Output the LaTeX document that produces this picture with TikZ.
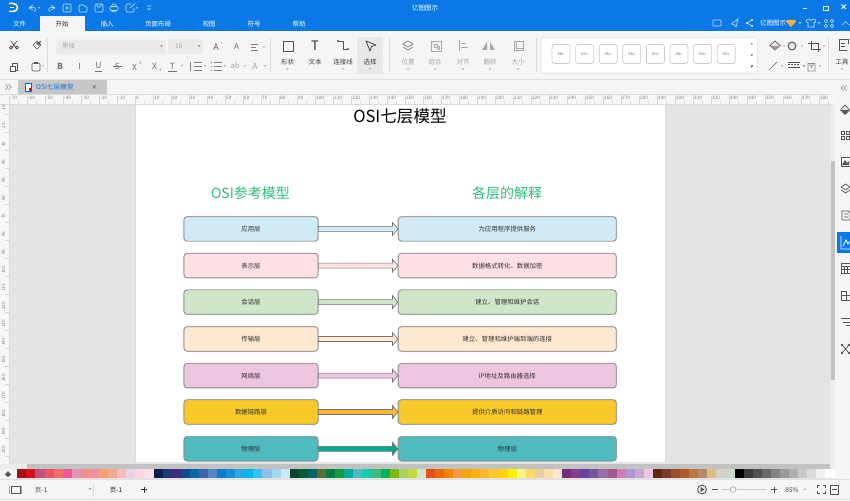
\documentclass[tikz,border=0pt]{standalone}
\usepackage{fontspec}
\setmainfont{Noto Sans CJK SC}
\usetikzlibrary{calc,shapes.geometric}
\definecolor{appblue}{HTML}{0A78E6}
\definecolor{ribbon}{HTML}{F5F5F5}
\definecolor{canvas}{HTML}{E4E4E4}
\definecolor{iconc}{HTML}{555555}
\definecolor{dimc}{HTML}{A8A8A8}
\definecolor{headgreen}{HTML}{2EBD7A}
\definecolor{cBlue}{HTML}{D0EBF5}
\definecolor{cPink}{HTML}{FFE0E5}
\definecolor{cGreen}{HTML}{CFE6C9}
\definecolor{cPeach}{HTML}{FEE8CF}
\definecolor{cMauve}{HTML}{ECC6DE}
\definecolor{cYellow}{HTML}{F9C92A}
\definecolor{cTeal}{HTML}{4FBBBF}
\definecolor{aOrange}{HTML}{FDB72A}
\definecolor{aTeal}{HTML}{02A890}
\definecolor{gemc}{HTML}{F5B335}
\tikzset{
  layerbox/.style={draw=black!48,line width=0.65pt,rounded corners=3.2pt,inner sep=0pt,
    minimum height=24.4pt,text=black!80,font=\fontsize{6.4}{7}\selectfont,
    preaction={draw=black!14,line width=1.7pt}},
  leftbox/.style={layerbox,minimum width=134pt},
  rightbox/.style={layerbox,minimum width=218pt},
  layerarrow/.style={draw=black!55,line width=0.6pt,line join=miter},
  heading/.style={text=headgreen,inner sep=0pt,font=\fontsize{14}{16}\selectfont},
  menulabel/.style={inner sep=0pt,text=white,font=\fontsize{6.5}{7}\selectfont},
  toollabel/.style={inner sep=0pt,text=black!75,font=\fontsize{6.5}{7}\selectfont},
  dimlabel/.style={inner sep=0pt,text=dimc,font=\fontsize{6.5}{7}\selectfont},
  rulerlabel/.style={inner sep=0pt,text=black!50,font=\fontsize{4.6}{5}\selectfont},
  ico/.style={draw=iconc,line width=0.7pt},
  dimico/.style={draw=dimc,line width=0.7pt},
  wico/.style={draw=white!80!appblue,line width=0.6pt},
  bico/.style={draw=black!68,line width=0.85pt},
}
\newcommand{\conn}[3]{%
  \draw[layerarrow,fill=#3] ($(#1.east)+(0,-2.5)$) -- ($(#2.west)+(-5.5,-2.5)$) -- ($(#2.west)+(-5.5,-6.5)$)
    -- (#2.west) -- ($(#2.west)+(-5.5,6.5)$) -- ($(#2.west)+(-5.5,2.5)$) -- ($(#1.east)+(0,2.5)$) -- cycle;}
\newcommand{\caret}[3][dimc]{\fill[#1] (#2-1.3,#3-0.7) -- (#2+1.3,#3-0.7) -- (#2,#3+0.8) -- cycle;}
\begin{document}
\begin{tikzpicture}[x=1pt,y=-1pt]
\useasboundingbox (0,0) rectangle (850,500);
% ---------- backgrounds
\fill[canvas] (0,0) rectangle (850,500);
\fill[appblue] (0,0) rectangle (850,31);
\fill[ribbon] (0,31) rectangle (850,80);
\draw[black!12,line width=0.6pt] (0,79.5) -- (850,79.5);
\fill[ribbon] (0,80) rectangle (850,94);
\fill[black!3] (0,94) rectangle (850,104);
\fill[black!3] (0,104) rectangle (9,464);
\fill[white] (135,104) rectangle (665,462);
\draw[black!14,line width=0.4pt] (135,104) -- (135,462) (665,104) -- (665,462);
\fill[ribbon] (835,94) rectangle (850,480);
\fill[black!7] (831,104) rectangle (835,464);
\fill[black!24] (831,161) rectangle (835,380);
\fill[black!7] (0,464) rectangle (835,468.5);
\fill[black!24] (27,464) rectangle (830,468.5);
\fill[ribbon] (0,468.5) rectangle (17,480);
\fill[ribbon] (0,479) rectangle (850,500);
\draw[black!12,line width=0.5pt] (0,479.5) -- (850,479.5) (0,499.5) -- (850,499.5);
% ---------- title bar icons
\draw[white,line width=1.5pt] (9,3.5) -- (13,3.5) .. controls (19,3.5) and (19,11.5) .. (13,11.5) -- (9,11.5);
\draw[white,line width=1.2pt] (10,7.5) -- (14,7.5);
\draw[wico] (29,8) -- (33,5) (29,8) -- (33,10) (29,8) .. controls (36,6) and (37,9) .. (34,12);
\draw[wico] (55,8) -- (51,5) (55,8) -- (51,10) (55,8) .. controls (49,6) and (47,9) .. (50,12);
\draw[wico,rounded corners=1pt] (63,4) rectangle (71,12) (65,8) -- (69,8) (67,6) -- (67,10);
\draw[wico,rounded corners=1pt] (79,5) -- (84,5) -- (85,6.5) -- (87,6.5) -- (87,12) -- (79,12) -- cycle;
\draw[wico,rounded corners=1pt] (95,4) rectangle (103,12) (97,4) -- (97,7) -- (101,7) -- (101,4);
\draw[wico,rounded corners=1pt] (110,6.5) rectangle (118,10.5) (112,6.5) -- (112,4) -- (116,4) -- (116,6.5) (112,10.5) -- (112,12) -- (116,12) -- (116,10.5);
\draw[wico,rounded corners=1pt] (131,4) -- (126,4) -- (126,12) -- (134,12) -- (134,8) (130,8) -- (135,3.5);
\draw[wico] (147,6) -- (151,6) (147.5,8) -- (149,10) -- (150.5,8);
\caret[white!80!appblue]{39}{8} \caret[white!80!appblue]{137}{8}
\node[inner sep=0pt,text=white,font=\fontsize{6.5}{7}\selectfont] (apptitle) at (425,8) {亿图图示};
\draw[white,line width=0.8pt] (803,8.5) -- (807,8.5);
\draw[white,line width=0.7pt] (823,6) rectangle (828,10);
\draw[white,line width=0.8pt] (841.5,4.5) -- (846,9) (846,4.5) -- (841.5,9);
% ---------- menu tabs
\fill[ribbon] (40,16) rectangle (84.5,31);
\node[menulabel] (m1) at (19.5,24) {文件};
\node[menulabel,text=black!80] (m2) at (62,24) {开始};
\node[menulabel] (m3) at (107,24) {插入};
\node[menulabel] (m4) at (158,24) {页面布局};
\node[menulabel] (m5) at (209,24) {视图};
\node[menulabel] (m6) at (254,24) {符号};
\node[menulabel] (m7) at (299,24) {帮助};
% right side of tab row
\draw[wico,rounded corners=0.8pt] (713,20) rectangle (721,26);
\draw[wico] (731,24) -- (738,19) -- (736,27) -- (734,24.5) -- (731,24);
\draw[wico] (747,23) -- (752,20) (747,23) -- (752,26);
\fill[white] (747,23) circle (1.1) (752,20) circle (1.1) (752,26) circle (1.1);
\node[menulabel] (acct) at (773,23.5) {亿图图示};
\fill[gemc] (787,20) -- (795,20) -- (796,21.5) -- (791,27) -- (786,21.5) -- cycle;
\draw[wico] (806,20) -- (809,19) -- (811,20.5) -- (813,19) -- (816,20) -- (815,22.5) -- (814,22.5) -- (814,27) -- (808,27) -- (808,22.5) -- (807,22.5) -- cycle;
\draw[wico] (826,21) circle (1.8) (832,21) circle (1.8) (826,26) circle (1.8) (832,26) circle (1.8);
\draw[wico] (842,25) -- (845.5,21.5) -- (849,25);
\caret[white]{800}{23} \caret[white]{819}{23}
% ---------- ribbon separators
\foreach \sx in {47,270,389,536,828} \draw[black!14,line width=0.5pt] (\sx,38) -- (\sx,72);
% clipboard group
\draw[ico] (11,41) -- (17,49) (17,41) -- (11,49);
\draw[ico] (11,47.5) circle (1.7) (17,47.5) circle (1.7);
\draw[ico] (33,45) -- (37,41) -- (41,45) -- (37,49) -- cycle;
\fill[iconc] (36,43) -- (41,41) -- (39,46) -- cycle;
\draw[ico] (12,63) rectangle (17,70);
\draw[ico,fill=ribbon] (10,66) rectangle (15,71);
\draw[ico,rounded corners=1pt] (32,63) rectangle (40,71);
\fill[iconc] (34,62) rectangle (38,64.5);
\caret{43}{66}
% font boxes
\fill[black!8] (56,39) rectangle (165,54);
\draw[black!6,line width=0.5pt] (56,39) rectangle (165,54);
\fill[black!8] (168,39) rectangle (203,54);
\node[dimlabel,anchor=west] (fontname) at (62,46.5) {黑体};
\node[dimlabel,anchor=west] (fontsize) at (175,46.5) {10};
\caret[black!55]{161.5}{46} \caret[black!55]{199}{46}
\node[dimlabel,text=black!60,font=\fontsize{9}{9}\selectfont] (gA1) at (216,47) {A};
\node[dimlabel,text=black!60,font=\fontsize{3.5}{4}\selectfont] (gA1p) at (221.5,43) {+};
\node[dimlabel,text=black!60,font=\fontsize{8}{9}\selectfont] (gA2) at (236.5,47) {A};
\node[dimlabel,text=black!60,font=\fontsize{3.5}{4}\selectfont] (gA2m) at (241,43) {-};
\draw[black!50,line width=0.6pt] (251,44) -- (258,44) (251,47) -- (256,47) (251,50) -- (258,50);
\caret{264}{47}
% format row
\node[dimlabel,text=black!55,font=\bfseries\fontsize{8.5}{9}\selectfont] (fB) at (60,66) {B};
\node[dimlabel,text=black!55,font=\itshape\fontsize{8.5}{9}\selectfont] (fI) at (79.5,66) {I};
\node[dimlabel,text=black!55,font=\fontsize{8.5}{9}\selectfont] (fU) at (98.5,65.5) {U};
\draw[black!55,line width=0.6pt] (95,71) -- (102,71);
\node[dimlabel,text=black!55,font=\fontsize{8.5}{9}\selectfont] (fS) at (117.5,66) {S};
\draw[black!55,line width=0.6pt] (113,66) -- (122,66);
\node[dimlabel,text=black!55,font=\fontsize{8.5}{9}\selectfont] (fX1) at (134.5,67) {X};
\node[dimlabel,text=black!55,font=\fontsize{4}{4}\selectfont] (fX1s) at (140.5,63.5) {2};
\node[dimlabel,text=black!55,font=\fontsize{8.5}{9}\selectfont] (fX2) at (154.5,66) {X};
\node[dimlabel,text=black!55,font=\fontsize{4}{4}\selectfont] (fX2s) at (160.5,70) {2};
\node[dimlabel,text=black!55,font=\fontsize{8.5}{9}\selectfont] (fT) at (172.5,66) {T};
\draw[black!55,line width=0.6pt] (168,71) -- (177,71);
\draw[black!50,line width=0.6pt] (194,62.5) -- (202,62.5) (194,66.5) -- (202,66.5) (194,70.5) -- (202,70.5) (190,62) -- (190,71);
\draw[black!50,line width=0.6pt] (214,62.5) -- (222,62.5) (214,66.5) -- (222,66.5) (214,70.5) -- (222,70.5);
\fill[black!50] (211.5,62.5) circle (0.7) (211.5,66.5) circle (0.7) (211.5,70.5) circle (0.7);
\node[dimlabel,font=\fontsize{7.5}{8}\selectfont] (fab) at (235,66) {ab};
\node[dimlabel,font=\fontsize{8.5}{9}\selectfont] (fAc) at (255,66) {A};
\caret{182}{66} \caret{205}{66} \caret{225}{66} \caret{245}{66} \caret{265}{66}
% shape tools
\fill[black!9] (357,37) rectangle (383,74);
\draw[bico] (283,41) rectangle (293,51);
\node[toollabel,text=black!80,font=\fontsize{13}{14}\selectfont] (tT) at (315,46) {T};
\draw[bico] (338,41) -- (343.5,41) -- (343.5,49) -- (348,49);
\fill[black!68] (338,41) circle (1.1) (348,49) circle (1.1);
\draw[bico,line join=round] (366,41) -- (376,45) -- (371.5,46.5) -- (370,51) -- cycle;
\node[toollabel] (t1) at (287.5,62) {形状};
\node[toollabel] (t2) at (315,62) {文本};
\node[toollabel] (t3) at (343,62) {连接线};
\node[toollabel] (t4) at (370,62) {选择};
\caret{287.5}{69} \caret{343}{69} \caret{370}{69}
% arrange group
\draw[dimico,draw=black!50,line join=round] (408,41) -- (413,44) -- (408,47) -- (403,44) -- cycle (403,47) -- (408,50) -- (413,47);
\draw[dimico] (431,41) rectangle (441,51) (434,44) rectangle (437,47) (437,46) rectangle (439,49);
\draw[dimico] (459.5,40) -- (459.5,51) (461,43) -- (466,43) (461,47) -- (468,47);
\fill[dimc] (487,42) -- (487,50) -- (482,50) -- cycle (490,42) -- (490,50) -- (495,50) -- cycle;
\draw[dimico] (514,41) rectangle (523,50) (516,41) -- (516,48) -- (523,48);
\node[dimlabel] (a1) at (408,62) {位置};
\node[dimlabel] (a2) at (435,62) {组合};
\node[dimlabel] (a3) at (463,62) {对齐};
\node[dimlabel] (a4) at (490,62) {翻转};
\node[dimlabel] (a5) at (518,62) {大小};
\foreach \cx in {408,435,463,490,518} \caret{\cx}{69}
% style gallery
\draw[black!10,fill=white,line width=0.5pt,rounded corners=1.5pt] (541,38) rectangle (757,73);
\foreach \gi in {0,...,7} {
  \node[draw=black!20,line width=0.7pt,fill=white,rounded corners=2.5pt,minimum width=18pt,minimum height=19pt,inner sep=0pt,
        text=black!50,font=\fontsize{4}{4}\selectfont] (style\gi) at (561+\gi*23.6,54) {Abc};
}
\fill[black!50] (750.5,44.5) -- (753,44.5) -- (751.8,42.5) -- cycle (750.5,54.5) -- (753,54.5) -- (751.8,56.5) -- cycle (750.5,66) -- (753,66) -- (751.8,68) -- cycle;
\draw[black!50,line width=0.4pt] (750.5,64.8) -- (753,64.8);
% fill/line group
\draw[ico,line join=round] (770,45.5) -- (775,41) -- (780,45.5) -- (775,50) -- cycle;
\fill[black!40] (771,46) -- (779,46) -- (775,50) -- cycle;
\draw[black!60,line width=1.2pt] (792,46) circle (3.9);
\draw[bico] (811,41) -- (811,49) -- (821,49) (808,43.5) -- (818,43.5) -- (818,52);
\draw[black!45,line width=1pt] (769,70) -- (777,62);
\draw[bico] (788,62) -- (800,62) (788,67) -- (800,67);
\draw[bico,dash pattern=on 2pt off 1pt] (788,64.5) -- (800,64.5);
\draw[dimico,draw=black!45] (808,63.5) rectangle (815,71) (809.5,63.5) arc (180:0:2 and 2.5);
\fill[black!45] (811.5,67.2) circle (0.8);
\caret{784}{46} \caret{802}{46} \caret{824}{46} \caret{782}{66} \caret[black!60]{804}{66} \caret{820}{66}
% tools
\draw[bico,line width=0.7pt] (839,39) -- (839,50) -- (847,50) (839,39) -- (848,39) -- (848,44) (841,43) -- (845,43) (841,46) -- (845,46);
\node[toollabel] (tools) at (842,62) {工具};
\caret{842}{69}
% ---------- tab bar
\fill[black!22] (18,80) rectangle (107,94);
\draw[black!50,line width=0.5pt] (5.5,84) -- (8,87) -- (5.5,90) (8.5,84) -- (11,87) -- (8.5,90);
\draw[black!50,line width=0.5pt] (843.5,85) -- (841,88) -- (843.5,91) (846.5,85) -- (844,88) -- (846.5,91);
\draw[blue!60!cyan,line width=0.8pt,fill=white] (25,83) rectangle (31,91);
\fill[red] (29,88.5) rectangle (32,91.5);
\node[anchor=west,inner sep=0pt,text=appblue,font=\fontsize{6.6}{7}\selectfont] (doctab) at (36,87) {OSI七层模型};
\draw[black!55,line width=0.6pt] (92.5,85) -- (96,88.5) (96,85) -- (92.5,88.5);
% ---------- rulers
\draw[black!14,line width=0.4pt] (0,94) -- (831,94) (0,104) -- (831,104) (9,104) -- (9,464);
\foreach \r in {-7,...,38} {
  \pgfmathsetmacro{\rx}{135+18*\r}
  \pgfmathtruncatemacro{\rl}{\r*10}
  \draw[black!16,line width=0.4pt] (\rx,96) -- (\rx,104);
  \draw[black!12,line width=0.3pt] (\rx+9,100) -- (\rx+9,104);
  \node[rulerlabel,anchor=west] (rt\r) at (\rx+1,97.5) {\rl};
}
\foreach \r in {1,...,20} {
  \pgfmathsetmacro{\ry}{90+18*\r}
  \pgfmathtruncatemacro{\rl}{\r*10}
  \draw[black!16,line width=0.4pt] (5,\ry+6) -- (9,\ry+6);
  \node[rulerlabel,rotate=90] (rl\r) at (3.5,\ry) {\rl};
}
% ---------- right sidebar
\fill[appblue] (837,232) rectangle (850,253);
\draw[ico,line join=round] (845,105) -- (849.5,110) -- (845,114.5) -- (840.5,110) -- cycle;
\fill[iconc] (841,110) -- (849,110) -- (845,114.5) -- cycle;
\draw[ico] (841,131) rectangle (844.5,134.5) (846,131) rectangle (849.5,134.5) (841,136) rectangle (844.5,139.5) (846,136) rectangle (849.5,139.5);
\draw[ico] (841,157) rectangle (850,166);
\fill[iconc] (842,165) -- (845,160) -- (847,163) -- (849,161) -- (849,165) -- cycle;
\draw[ico,line join=round] (845.5,184) -- (850,187) -- (845.5,190) -- (841,187) -- cycle (841,190) -- (845.5,193) -- (850,190);
\draw[ico] (842,211) -- (848,211) -- (850,213) -- (850,220) -- (842,220) -- cycle (844,214) -- (848,214) (844,217) -- (848,217);
\draw[white,line width=0.8pt] (841,236) -- (841,249) -- (850,249) (843,246) -- (846,240) -- (848,244) -- (850,241);
\draw[ico] (841,263) rectangle (850,273) (841,266) -- (850,266) (841,269.5) -- (850,269.5) (844,266) -- (844,273) (847,266) -- (847,273);
\draw[ico] (841,291) -- (846,291) -- (846,295) -- (850,295) -- (850,300) -- (841,300) -- cycle (841,295) -- (846,295) (846,291) -- (846,300);
\draw[ico] (841,318.5) -- (850,318.5) (843,322) -- (850,322) (846,325.5) -- (850,325.5);
\draw[ico] (842,345) -- (849,353) (849,345) -- (842,353);
\fill[iconc] (842,345) circle (1.3) (849,345) circle (1.3) (842,353) circle (1.3) (849,353) circle (1.3);
% ---------- palette
\fill[iconc] (8,471) -- (11,474.5) -- (8,477) -- (5,474.5) -- cycle;
\foreach \pc [count=\pi from 0] in {AB0D14,D9101F,C2517A,EC5566,EE6F6E,E75C9A,E296B6,EF8F85,F0909A,FB9E6E,F3AB8F,F8BDB4,E9D3E6,FBD4E5,FEE0E5,
  0E1F52,1D3873,3F2C7E,0F4C90,0A68A8,3F65AF,5585C5,0B7BD0,1590D8,2AA8E0,08B5F1,2EC5F4,8CC0EA,A4D7EF,CDE9F5,
  0B4431,055B36,02636A,586C2B,047A45,169A3E,01AC9B,50B9C1,12CDB0,40B97C,02B45A,7FB80E,A5D263,C2D940,D0E6C8,
  E54E1A,EE6A00,F58400,F7994A,F2A700,FFB000,FDB72A,FBC82E,FFD800,FFF000,FFF585,FFD667,EBCD9C,FCDDA8,FEE9CF,
  7A2C7A,863D8D,6A3D9F,75549F,9A6BA5,A05A90,CD7FB3,AE97D4,C6A8D0,EEC6E0,
  5A2A12,7A3C29,96502A,AF5B25,BC773F,B58A68,E0BB83,D5D0C8,CBD8CC,
  000000,3A3A3A,505050,6A6A6A,838383,9A9A9A,AFAFAF,C8C8C8,DBDBDB,EFEFEF,FFFFFF} {
  \definecolor{swatch}{HTML}{\pc}
  \fill[swatch] (17.3+\pi*9.08,469.2) rectangle (17.3+\pi*9.08+9.08,478.2);
}
% ---------- status bar
\draw[bico] (11,486) rectangle (20,493);
\draw[black!35,line width=0.9pt] (9.5,485.5) -- (9.5,493.5) (21.5,485.5) -- (21.5,493.5);
\node[toollabel,text=black!70] (pg1) at (41,490) {页-1};
\caret[black!55]{90}{489}
\draw[black!14,line width=0.5pt] (93,483) -- (93,497);
\node[toollabel,text=black!90] (pg2) at (116,490) {页-1};
\draw[black!80,line width=0.8pt] (141,489.5) -- (147,489.5) (144,486.5) -- (144,492.5);
\draw[bico] (702,489.5) circle (4.4);
\fill[black!68] (700.5,487) -- (704.5,489.5) -- (700.5,492) -- cycle;
\draw[bico] (712,489.5) -- (718,489.5);
\draw[black!20,line width=1pt] (722,489.5) -- (767,489.5);
\draw[black!40,fill=white,line width=0.6pt] (733,489.5) circle (2.8);
\draw[bico] (771,489.5) -- (777,489.5) (774,486.5) -- (774,492.5);
\node[toollabel] (zoomp) at (792,490) {85\%};
\caret[black!40]{805}{489.5}
\draw[bico] (817,488) -- (817,485.5) -- (819.5,485.5) (822.5,485.5) -- (825,485.5) -- (825,488) (825,491) -- (825,493.5) -- (822.5,493.5) (819.5,493.5) -- (817,493.5) -- (817,491);
\draw[bico] (830,485) rectangle (838,494) (831.5,489.5) -- (836.5,489.5);
% ---------- diagram
\node[inner sep=0pt,text=black,font=\fontsize{16.6}{18}\selectfont] (title) at (400,116) {OSI七层模型};
\node[heading] (headL) at (250.5,193) {OSI参考模型};
\node[heading] (headR) at (507,193) {各层的解释};
\node[leftbox,fill=cBlue]   (l1) at (251,228.9) {应用层};
\node[leftbox,fill=cPink]   (l2) at (251,265.6) {表示层};
\node[leftbox,fill=cGreen]  (l3) at (251,302.1) {会话层};
\node[leftbox,fill=cPeach]  (l4) at (251,339) {传输层};
\node[leftbox,fill=cMauve]  (l5) at (251,375.6) {网络层};
\node[leftbox,fill=cYellow] (l6) at (251,412) {数据链路层};
\node[leftbox,fill=cTeal]   (l7) at (251,448.8) {物理层};
\node[rightbox,fill=cBlue]   (r1) at (507.3,228.9) {为应用程序提供服务};
\node[rightbox,fill=cPink]   (r2) at (507.3,265.6) {数据格式转化、数据加密};
\node[rightbox,fill=cGreen]  (r3) at (507.3,302.1) {建立、管理和维护会话};
\node[rightbox,fill=cPeach]  (r4) at (507.3,339) {建立、管理和维护端到端的连接};
\node[rightbox,fill=cMauve]  (r5) at (507.3,375.6) {IP地址及路由器选择};
\node[rightbox,fill=cYellow] (r6) at (507.3,412) {提供介质访问和链路管理};
\node[rightbox,fill=cTeal]   (r7) at (507.3,448.8) {物理层};
\conn{l1}{r1}{cBlue}
\conn{l2}{r2}{cPink}
\conn{l3}{r3}{cGreen}
\conn{l4}{r4}{cPeach}
\conn{l5}{r5}{cMauve}
\conn{l6}{r6}{aOrange}
\conn{l7}{r7}{aTeal}
\end{tikzpicture}
\end{document}
